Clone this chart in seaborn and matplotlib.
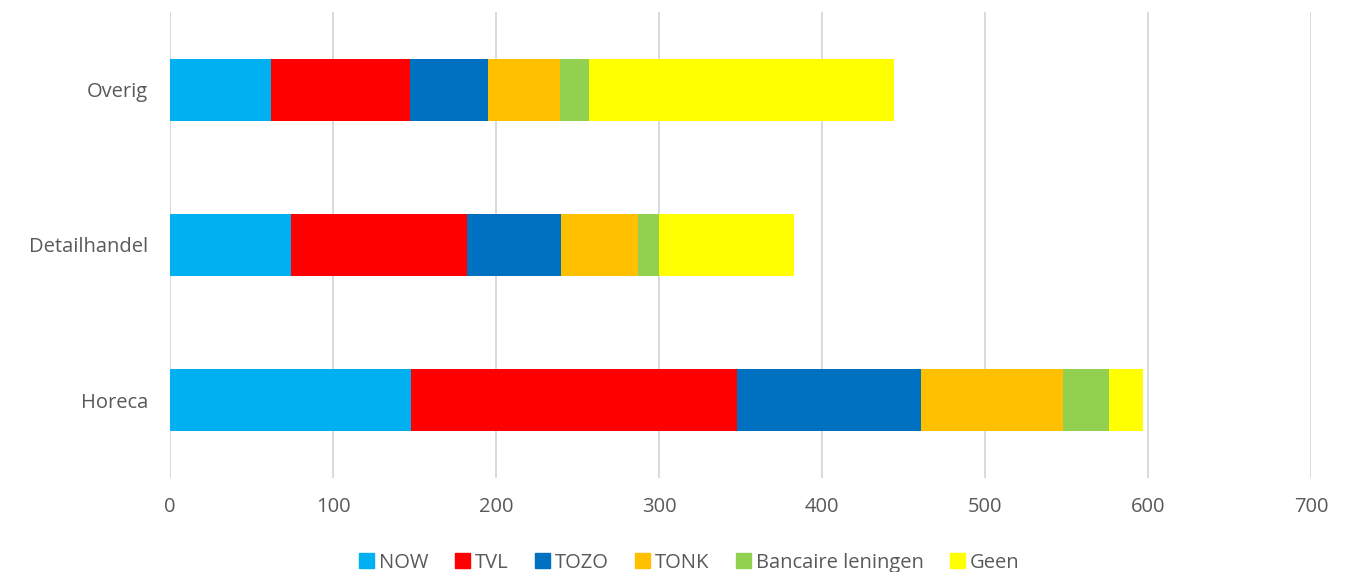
import numpy as np
import pandas as pd
import matplotlib
matplotlib.use("Agg")
import matplotlib.pyplot as plt
import matplotlib.patches as mpatches
import seaborn as sns

# Data
sectors = ["Overig", "Detailhandel", "Horeca"]
series = ["NOW", "TVL", "TOZO", "TONK", "Bancaire leningen", "Geen"]
now = [62, 74, 148]
tvl = [85, 108, 200]
tozo = [48, 58, 113]
tonk = [44, 47, 87]
bancaire = [18, 13, 28]
geen = [187, 83, 21]
colors = ["#00B0F0", "#FF0000", "#0070C0", "#FFC000", "#92D050", "#FFFF00"]
xticks = [0, 100, 200, 300, 400, 500, 600, 700]

sns.set_style("white")
plt.rcParams["font.family"] = ["Open Sans", "DejaVu Sans"]

df = pd.DataFrame({
    "sector": sectors,
    "NOW": now,
    "TVL": tvl,
    "TOZO": tozo,
    "TONK": tonk,
    "Bancaire leningen": bancaire,
    "Geen": geen,
})

# cumulative sums, drawn from the largest so each segment shows
cum = df[series].cumsum(axis=1)
cum["sector"] = df["sector"]

fig = plt.figure(figsize=(13.6, 5.72), dpi=100)
ax = fig.add_axes([170 / 1360, 94 / 572, 1141 / 1360, 466 / 572])

for name, col in reversed(list(zip(series, colors))):
    sns.barplot(data=cum, x=name, y="sector", order=sectors, color=col,
                width=0.4, linewidth=0, saturation=1, ax=ax)

ax.set_xlim(0, 700)
ax.set_ylim(2.5, -0.5)
ax.set_xticks(xticks)
ax.set_xlabel("")
ax.set_ylabel("")
ax.grid(axis="x", color="#d9d9d9", linewidth=1.4)
ax.set_axisbelow(True)
for s in ax.spines.values():
    s.set_visible(False)
ax.tick_params(axis="both", length=0, labelsize=14.5, colors="#595959")
ax.tick_params(axis="y", pad=16)
ax.tick_params(axis="x", pad=14)

handles = [mpatches.Patch(color=c, label=n) for n, c in zip(series, colors)]
fig.legend(handles=handles, loc="center", bbox_to_anchor=(0.507, 0.016),
           ncol=6, frameon=False, fontsize=14.5, handlelength=0.75,
           handleheight=0.75, handletextpad=0.25, columnspacing=1.3,
           labelcolor="#595959")

fig.savefig("out.png", dpi=100)
